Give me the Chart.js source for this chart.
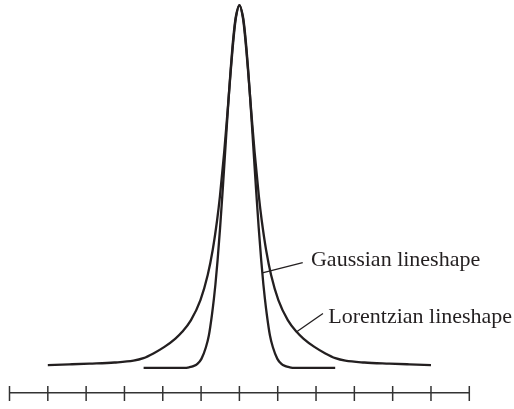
<!DOCTYPE html>
<html>
<head>
<meta charset="utf-8">
<script src="https://cdn.jsdelivr.net/npm/chart.js@4/dist/chart.umd.min.js"></script>
<style>
  html, body { margin: 0; padding: 0; background: #fff; }
  #wrap { width: 514px; height: 409px; }
  canvas { display: block; }
</style>
</head>
<body>
<div id="wrap"><canvas id="lines" width="514" height="409"></canvas></div>
<script>
// frequency offset from line centre (tick units) and intensity (peak = 1)
const gaussX = [-2.5, -1.435, -1.304, -1.2, -1.096, -0.991, -0.874, -0.796, -0.717, -0.665, -0.626, -0.569, -0.504, -0.436, -0.381, -0.326, -0.27, -0.227, -0.183, -0.13, -0.091,
  0, 0.091, 0.13, 0.183, 0.227, 0.27, 0.326, 0.381, 0.436, 0.504, 0.569, 0.626, 0.665, 0.717, 0.796, 0.874, 0.991, 1.096, 1.2, 1.304, 1.435, 2.5];
const gaussY = [0, 0, 0.002, 0.005, 0.011, 0.025, 0.057, 0.09, 0.146, 0.191, 0.23, 0.297, 0.386, 0.49, 0.58, 0.671, 0.761, 0.824, 0.882, 0.939, 0.969,
  1, 0.969, 0.939, 0.882, 0.824, 0.761, 0.671, 0.58, 0.49, 0.386, 0.297, 0.23, 0.191, 0.146, 0.09, 0.057, 0.025, 0.011, 0.005, 0.002, 0, 0];

const lorentzX = [-5, -4.435, -3.913, -3.261, -2.765, -2.505, -2.244, -1.957, -1.67, -1.498, -1.263, -1.017, -0.827, -0.697, -0.582, -0.509, -0.397, -0.331, -0.271, -0.227, -0.183, -0.13, -0.091,
  0, 0.091, 0.13, 0.183, 0.227, 0.271, 0.331, 0.397, 0.509, 0.582, 0.697, 0.827, 1.017, 1.263, 1.498, 1.67, 1.957, 2.244, 2.505, 2.765, 3.261, 3.913, 4.435, 5];
const lorentzY = [0.008, 0.01, 0.012, 0.015, 0.02, 0.027, 0.04, 0.058, 0.081, 0.099, 0.132, 0.187, 0.256, 0.325, 0.407, 0.472, 0.595, 0.678, 0.758, 0.817, 0.873, 0.932, 0.965,
  1, 0.965, 0.932, 0.873, 0.817, 0.758, 0.678, 0.595, 0.472, 0.407, 0.325, 0.256, 0.187, 0.132, 0.099, 0.081, 0.058, 0.04, 0.027, 0.02, 0.015, 0.012, 0.01, 0.008];

const tickValues = [-6, -5, -4, -3, -2, -1, 0, 1, 2, 3, 4, 5, 6];

// callouts: [label, from (x, y), to (x, y), text anchor (x, y)]
const callouts = [
  ["Gaussian lineshape", [0.6, 0.262], [1.652, 0.29], [1.868, 0.28]],
  ["Lorentzian lineshape", [1.495, 0.1], [2.181, 0.15], [2.319, 0.123]],
];

const ink = "#231f20";

const toPoints = (xs, ys) => xs.map((x, i) => ({ x: x, y: ys[i] }));

const axisTicks = {
  id: "axisTicks",
  afterDraw(chart) {
    const { ctx, scales } = chart;
    const xs = scales.x;
    const yAxis = chart.chartArea.bottom;
    ctx.save();
    ctx.strokeStyle = "#333";
    ctx.lineWidth = 1.5;
    tickValues.forEach((v) => {
      const px = xs.getPixelForValue(v);
      ctx.beginPath();
      ctx.moveTo(px, yAxis - 7);
      ctx.lineTo(px, yAxis + 8);
      ctx.stroke();
    });
    ctx.restore();
  },
};

const labels = {
  id: "labels",
  afterDraw(chart) {
    const { ctx, scales } = chart;
    const px = (v) => scales.x.getPixelForValue(v);
    const py = (v) => scales.y.getPixelForValue(v);
    ctx.save();
    ctx.strokeStyle = ink;
    ctx.fillStyle = ink;
    ctx.lineWidth = 1.3;
    ctx.font = '22px "Liberation Serif", "DejaVu Serif", serif';
    ctx.textBaseline = "alphabetic";
    callouts.forEach(([text, a, b, t]) => {
      ctx.beginPath();
      ctx.moveTo(px(a[0]), py(a[1]));
      ctx.lineTo(px(b[0]), py(b[1]));
      ctx.stroke();
      ctx.fillText(text, px(t[0]), py(t[1]));
    });
    ctx.restore();
  },
};

new Chart(document.getElementById("lines"), {
  type: "line",
  data: {
    datasets: [
      {
        label: "Lorentzian",
        data: toPoints(lorentzX, lorentzY),
        borderColor: ink,
        borderWidth: 2.3,
        pointRadius: 0,
        cubicInterpolationMode: "monotone",
        fill: false,
      },
      {
        label: "Gaussian",
        data: toPoints(gaussX, gaussY),
        borderColor: ink,
        borderWidth: 2.3,
        pointRadius: 0,
        cubicInterpolationMode: "monotone",
        fill: false,
      },
    ],
  },
  options: {
    responsive: false,
    animation: false,
    devicePixelRatio: 1,
    clip: false,
    layout: { padding: { left: 9.5, right: 44.7, top: 0, bottom: 0 } },
    plugins: { legend: { display: false }, tooltip: { enabled: false } },
    scales: {
      x: {
        type: "linear",
        min: -6,
        max: 6,
        ticks: { display: false, stepSize: 1 },
        grid: { display: false },
        border: { display: true, color: "#333", width: 1.5 },
        afterFit: (scale) => { scale.height = 16; },
      },
      y: {
        display: false,
        min: -0.069,
        max: 1.014,
      },
    },
  },
  plugins: [axisTicks, labels],
});
</script>
</body>
</html>
